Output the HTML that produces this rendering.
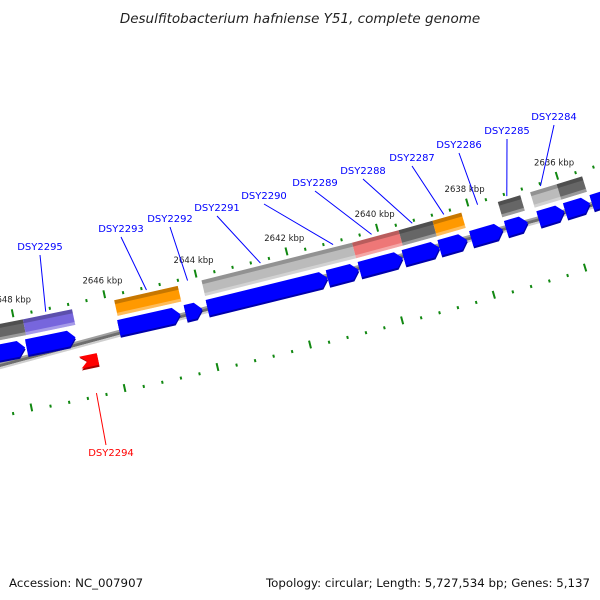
<!DOCTYPE html>
<html><head><meta charset="utf-8"><style>
body{margin:0;background:#fff;}
svg{display:block;font-family:"DejaVu Sans","Liberation Sans",sans-serif;}
</style></head><body>
<svg id="map" width="600" height="600" viewBox="0 0 600 600" xmlns="http://www.w3.org/2000/svg">
<text x="300" y="23" text-anchor="middle" font-size="13.5" font-style="italic" fill="#222">Desulfitobacterium hafniense Y51, complete genome</text>
<text x="9" y="587" font-size="11.8" fill="#111">Accession: NC_007907</text>
<text x="590" y="587" text-anchor="end" font-size="11.8" fill="#111">Topology: circular; Length: 5,727,534 bp; Genes: 5,137</text>
<g id="layer"></g>
</svg>
<script>
// ---- data ----
const majorTicks = [2648, 2646, 2644, 2642, 2640, 2638, 2636, 2634];
const tickLabels = ["2648 kbp","2646 kbp","2644 kbp","2642 kbp","2640 kbp","2638 kbp","2636 kbp","2634 kbp"];
const fwdStart = [2649.0,2647.85,2645.85,2644.40,2643.92,2641.29,2640.59,2639.62,2638.83,2638.13,2637.36,2636.64,2636.05,2635.46];
const fwdEnd   = [2647.88,2646.79,2644.51,2644.03,2641.29,2640.61,2639.64,2638.83,2638.22,2637.43,2636.88,2636.07,2635.50,2634.5];
const annStart = [2649.0,2647.81,2645.82,2643.91,2640.60,2639.57,2638.82,2637.37,2636.65,2636.06];
const annEnd   = [2647.81,2646.74,2644.43,2640.60,2639.57,2638.82,2638.18,2636.87,2636.06,2635.49];
const annColor = ["#666666","#7766dd","#ff9900","#bbbbbb","#ee7777","#666666","#ff9900","#666666","#bbbbbb","#666666"];
const revStart = [2646.80];
const revEnd   = [2646.42];
const geneNames = ["DSY2295","DSY2293","DSY2292","DSY2291","DSY2290","DSY2289","DSY2288","DSY2287","DSY2286","DSY2285","DSY2284"];
const geneMid   = [2647.3,2645.1,2644.2,2642.6,2641.0,2640.15,2639.25,2638.55,2637.8,2637.15,2636.4];
const labelX = [40,121,170,217,264,315,363,412,459,507,554];
const labelY = [250,232,222,211,199,186,174,161,148,134,120];
const revNames = ["DSY2294"];
const revMid = [2646.6];

// ---- axis ----
const R = 5600, K = 47.2, P0 = [298, 297];
const phi0 = Math.atan2(0.970, 0.245);
const C = [P0[0] - R*Math.cos(phi0), P0[1] - R*Math.sin(phi0)];
function pos(kbp, v){
  const s = (2642 - kbp) * K;
  const phi = phi0 - s / R;
  const r = R - v;
  return [C[0] + r*Math.cos(phi), C[1] + r*Math.sin(phi)];
}
const NS = "http://www.w3.org/2000/svg";
const layer = document.getElementById('layer');
function mk(tag, attrs){
  const e = document.createElementNS(NS, tag);
  for (const k in attrs) e.setAttribute(k, attrs[k]);
  layer.appendChild(e);
  return e;
}
function poly(pts, fill){
  return mk('polygon', {points: pts.map(p => pos(p[0], p[1]).map(n => n.toFixed(1)).join(',')).join(' '), fill: fill});
}

// backbone
let e = poly([[2650,-5],[2630,-5],[2630,-9],[2650,-9]], "#6e6e6e");


e = poly([[2650,-4],[2630,-4],[2630,-6],[2650,-6]], "#a0a0a0");


e = poly([[2650,-9],[2630,-9],[2630,-11],[2650,-11]], "#cfcfcf");



// ticks
for (let k = 2650; k >= 2632; k -= 0.4) {
  const kk = Math.round(k*10)/10;
  const major = Math.abs(kk/2 - Math.round(kk/2)) < 0.01;
  const len = major ? 8 : 3;
  [[43, 43+len], [-53, -53+len]].forEach((vv, i) => {
    const a = pos(kk, vv[0]), b = pos(kk, vv[1]);
    const t = mk('line', {x1:a[0], y1:a[1], x2:b[0], y2:b[1], stroke:"#118811", 'stroke-width': 2});
    
    
  });
}
majorTicks.forEach((k, i) => {
  const p = pos(k, 60);
  const t = mk('text', {x:p[0]+1, y:p[1]+2, 'text-anchor':'middle', 'font-size':8.5, fill:'#222'});
  t.textContent = tickLabels[i];
  
  
});

// annotation bars
annStart.forEach((s, i) => {
  const en = annEnd[i];
  let g = poly([[s,39],[en,39],[en,23],[s,23]], annColor[i]);
  
  
  g = poly([[s,39],[en,39],[en,35],[s,35]], "rgba(0,0,0,0.22)");
  
  
  g = poly([[s,26],[en,26],[en,23],[s,23]], "rgba(255,255,255,0.35)");
  
  
});

// forward genes
const A = 0.15;
fwdStart.forEach((s, i) => {
  const en = fwdEnd[i];
  const a = Math.min(A, (s-en)*0.5);
  let g = poly([[s,17],[en+a,17],[en,9],[en+a,1],[s,1]], "#0000aa");
  
  
  g = poly([[s,19],[en+a,19],[en,11],[en+a,3],[s,3]], "#0000ff");
  
  
});
// reverse genes
revStart.forEach((s, i) => {
  const en = revEnd[i];
  let g = poly([[s-A,-16],[s,-10],[en,-10],[en,-23],[s,-23]], "#aa0000");
  
  
  g = poly([[s-A,-15],[s,-9],[en,-9],[en,-21],[s,-21]], "#ff0000");
  
  
});

// gene labels
geneNames.forEach((n, i) => {
  const p = pos(geneMid[i], 42);
  const l = mk('line', {x1:labelX[i], y1:labelY[i]+5, x2:p[0], y2:p[1], stroke:'#0000ff', 'stroke-width':1});
  
  
  const t = mk('text', {x:labelX[i], y:labelY[i], 'text-anchor':'middle', 'font-size':10, fill:'#0000ff'});
  t.textContent = n;
  
  
});
revNames.forEach((n, i) => {
  const p = pos(revMid[i], -48);
  const l = mk('line', {x1:p[0], y1:p[1], x2:106, y2:445, stroke:'#ff0000', 'stroke-width':1});
  
  
  const t = mk('text', {x:111, y:456, 'text-anchor':'middle', 'font-size':10, fill:'#ff0000'});
  t.textContent = n;
  
  
});
</script>
</body></html>
